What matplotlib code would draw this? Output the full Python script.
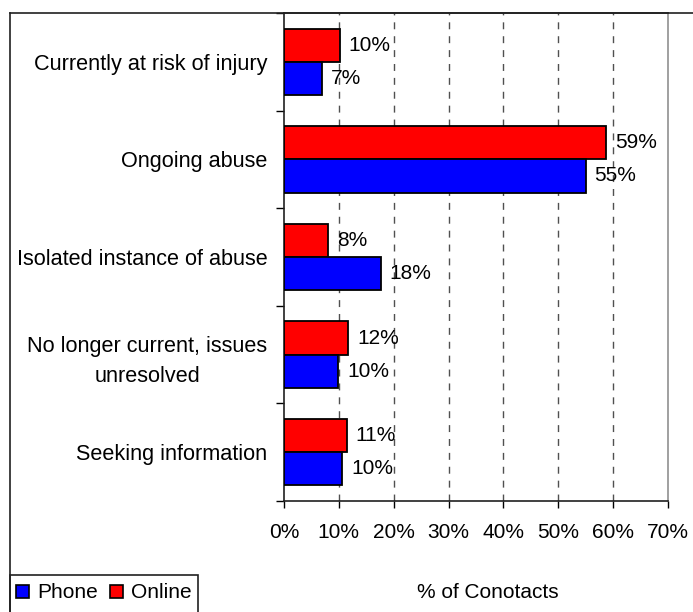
import matplotlib
matplotlib.use("Agg")
import matplotlib.pyplot as plt
from matplotlib.patches import Rectangle, Patch
from matplotlib.lines import Line2D
import numpy as np

plt.rcParams['font.family'] = ['Liberation Sans', 'DejaVu Sans']

categories = ["Currently at risk of injury", "Ongoing abuse", "Isolated instance of abuse",
              "No longer current, issues\nunresolved", "Seeking information"]
phone = [7.0, 55.0, 17.6, 9.9, 10.6]
online = [10.2, 58.7, 8.1, 11.7, 11.4]
phone_labels = ["7%", "55%", "18%", "10%", "10%"]
online_labels = ["10%", "59%", "8%", "12%", "11%"]
xticks = [0, 10, 20, 30, 40, 50, 60, 70]
xtick_labels = ["0%", "10%", "20%", "30%", "40%", "50%", "60%", "70%"]

W, H = 693, 612
fig = plt.figure(figsize=(W / 100, H / 100), dpi=100)
ax = fig.add_axes([284 / W, 1 - 501 / H, (668 - 284) / W, (501 - 13) / H])

y = np.arange(len(categories))
h = 0.34
ax.barh(y - h / 2, online, height=h, color='#FF0000', edgecolor='black', linewidth=1.3, zorder=3)
ax.barh(y + h / 2, phone, height=h, color='#0000FF', edgecolor='black', linewidth=1.3, zorder=3)

fs = 15
for yi, v, t in zip(y, online, online_labels):
    ax.text(v + 1.6, yi - h / 2, t, va='center', ha='left', fontsize=fs, zorder=4)
for yi, v, t in zip(y, phone, phone_labels):
    ax.text(v + 1.6, yi + h / 2, t, va='center', ha='left', fontsize=fs, zorder=4)

ax.set_xlim(0, 70)
ax.set_ylim(len(categories) - 0.5, -0.5)

ax.set_xticks(xticks)
ax.set_xticklabels(xtick_labels, fontsize=fs)
ax.tick_params(axis='x', length=5, width=1, pad=11, colors='black')

ax.set_yticks(np.arange(len(categories) + 1) - 0.5)
ax.set_yticklabels([])
ax.tick_params(axis='y', which='major', length=6, width=1)
ax.set_yticks(y, minor=True)
ax.set_yticklabels(categories, minor=True, fontsize=15.6, multialignment='center',
                   linespacing=1.55)
ax.tick_params(axis='y', which='minor', length=0, pad=12)

for xv in xticks[1:-1]:
    ax.axvline(xv, color='#505050', linestyle=(0, (5, 5)), linewidth=1, zorder=1)

for s in ['left', 'bottom', 'top']:
    ax.spines[s].set_color('#202020')
    ax.spines[s].set_linewidth(1.2)
ax.spines['right'].set_color('#909090')
ax.spines['right'].set_linewidth(1.2)

# outer frame lines
fig.add_artist(Line2D([10 / W, 10 / W], [0, 1 - 13 / H], color='#202020', linewidth=1.2))
fig.add_artist(Line2D([10 / W, 1], [1 - 13 / H, 1 - 13 / H], color='#202020', linewidth=1.2))

# legend box
fig.add_artist(Rectangle((10 / W, -0.01), (198 - 10) / W, (612 - 575) / H + 0.01,
                         transform=fig.transFigure, facecolor='white', edgecolor='#202020',
                         linewidth=1.2))
handles = [Patch(facecolor='#0000FF', edgecolor='black', linewidth=1.2),
           Patch(facecolor='#FF0000', edgecolor='black', linewidth=1.2)]
fig.legend(handles, ["Phone", "Online"], loc='center left',
           bbox_to_anchor=(16 / W, 1 - 593 / H), ncol=2, frameon=False, fontsize=fs,
           handlelength=0.6, handleheight=0.6, handletextpad=0.4, columnspacing=0.6,
           borderaxespad=0, borderpad=0)

fig.text(488 / W, 1 - 593 / H, "% of Conotacts", ha='center', va='center', fontsize=fs)

fig.savefig("out.png", dpi=100)
